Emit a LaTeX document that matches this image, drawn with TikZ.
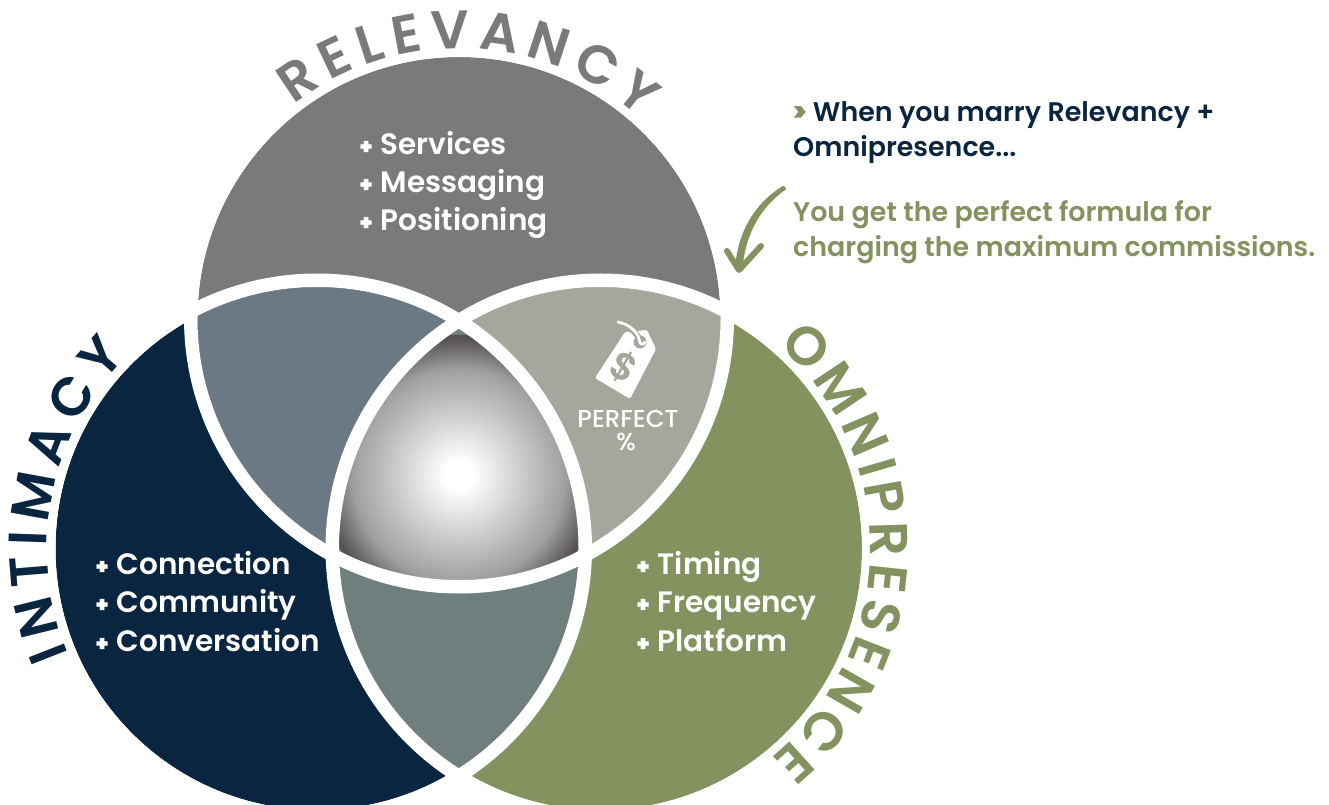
\documentclass[tikz,border=0pt]{standalone}
\usepackage{fontspec}
\setmainfont{Poppins}[BoldFont=* SemiBold]
\newfontfamily\capfont{Poppins}[UprightFont=* Medium]
\newfontfamily\titlefont{Poppins}[UprightFont=* SemiBold]
\newfontfamily\heavyfont{Poppins}[UprightFont=* Bold]
\usetikzlibrary{decorations.text}
\definecolor{relgray}{HTML}{7A7A7A}
\definecolor{navy}{HTML}{0A2540}
\definecolor{sage}{HTML}{84925F}
\definecolor{lensTL}{HTML}{6B7985}
\definecolor{lensTR}{HTML}{A4A79B}
\definecolor{lensLR}{HTML}{6E7F7E}
\definecolor{hubmid}{HTML}{A09E9F}
\definecolor{hubdark}{HTML}{555153}
\pgfdeclareradialshading{hub}{\pgfpointorigin}{color(0bp)=(white); color(2.5bp)=(white); color(19bp)=(hubmid); color(24.5bp)=(hubdark); color(50bp)=(hubdark)}
\def\topc{(459,485.5) circle [radius=261.5]}
\def\leftc{(317,255.5) circle [radius=261.5]}
\def\rightc{(600.5,255.5) circle [radius=261.5]}
\tikzset{
  ring/.style={draw=white,line width=13.5pt},
  listtext/.style={anchor=base west,align=left,text=white,font=\bfseries\fontsize{29.5}{38.4}\selectfont,inner sep=0pt},
  sidetext/.style={anchor=base west,align=left,font=\bfseries\fontsize{26.9}{35.5}\selectfont,inner sep=0pt},
}
\newcommand{\plusmark}{{\heavyfont\fontsize{22}{22}\selectfont +}\hspace{8.5pt}}
\begin{document}
\begin{tikzpicture}[x=1pt,y=1pt]
\clip (0,0) rectangle (1329,804);
\fill[white] (0,0) rectangle (1329,804);
% base circles
\fill[relgray] \topc;
\fill[navy] \leftc;
\fill[sage] \rightc;
% pairwise lenses
\begin{scope}\clip \topc; \fill[lensTL] \leftc; \end{scope}
\begin{scope}\clip \topc; \fill[lensTR] \rightc; \end{scope}
\begin{scope}\clip \leftc; \fill[lensLR] \rightc; \end{scope}
% centre
\begin{scope}
  \clip \topc; \clip \leftc; \clip \rightc;
  \shade[shading=hub] (459,329) circle [radius=140];
\end{scope}
% white bands
\draw[ring] (459,485.5) circle [radius=268.25];
\draw[ring] (317,255.5) circle [radius=268.25];
\draw[ring] (600.5,255.5) circle [radius=268.25];
% curved titles
\path[decorate,decoration={text along path,text color=relgray,text align={fit to path},
  text={|\titlefont\fontsize{54}{54}\selectfont|RELEVANCY}}]
  ([shift={(459,485.5)}]127.6:270) arc [start angle=127.6,end angle=48,radius=270];
\path[decorate,decoration={text along path,text color=navy,text align={fit to path},
  text={|\titlefont\fontsize{54}{54}\selectfont|INTIMACY}}]
  ([shift={(317,255.5)}]203:270) arc [start angle=203,end angle=135,radius=270];
\path[decorate,decoration={text along path,text color=sage,text align={fit to path},
  text={|\titlefont\fontsize{54}{54}\selectfont|OMNIPRESENCE}}]
  ([shift={(600.5,255.5)}]49:270) arc [start angle=49,end angle=-51,radius=270];
% lists
\node[listtext] (rel) at (360,573) {\plusmark Services\\\plusmark Messaging\\\plusmark Positioning};
\node[listtext] (int) at (96,153) {\plusmark Connection\\\plusmark Community\\\plusmark Conversation};
\node[listtext] (omn) at (637,153) {\plusmark Timing\\\plusmark Frequency\\\plusmark Platform};
% side text
\node[sidetext,text=navy] (when) at (793,647) {{\color{sage}\heavyfont >} When you marry Relevancy +\\Omnipresence...};
\node[sidetext,text=sage] (get) at (793,547) {You get the perfect formula for\\charging the maximum commissions.};
% arrow
\fill[sage,rounded corners=1pt] (786.5,615) .. controls (762,598) and (746,572) .. (742.5,536) -- (735,536) .. controls (738,572) and (754,600) .. (783.5,618.5) -- cycle;
\draw[sage,line width=6pt,line cap=round,line join=round]
  (727,553) -- (739,534) -- (761,558);
% tag
\fill[white,rounded corners=1.5pt] (595,426) -- (630,405) -- (656,455) -- (647,474) -- (625,472) -- cycle;
\draw[lensTR,line width=6pt,line cap=round] (626,478) .. controls (633,474) and (639,469) .. (640,462);
\fill[lensTR] (640,462) circle [radius=6.5];
\draw[white,line width=2.8pt,line cap=round] (618,482) .. controls (628,480) and (638,473) .. (639.5,463) .. controls (640,459) and (644,459) .. (645,462);
\node[rotate=-30,text=lensTR,font=\bfseries\fontsize{38}{38}\selectfont,inner sep=0pt] (dollar) at (623.5,437) {\$};
\node[anchor=base,text=white,font=\capfont\fontsize{24.5}{24.5}\selectfont,inner sep=0pt] (perfect) at (628,377) {PERFECT};
\node[anchor=base,text=white,font=\capfont\fontsize{24.5}{24.5}\selectfont,inner sep=0pt] (pct) at (626,354) {\%};
\end{tikzpicture}
\end{document}
